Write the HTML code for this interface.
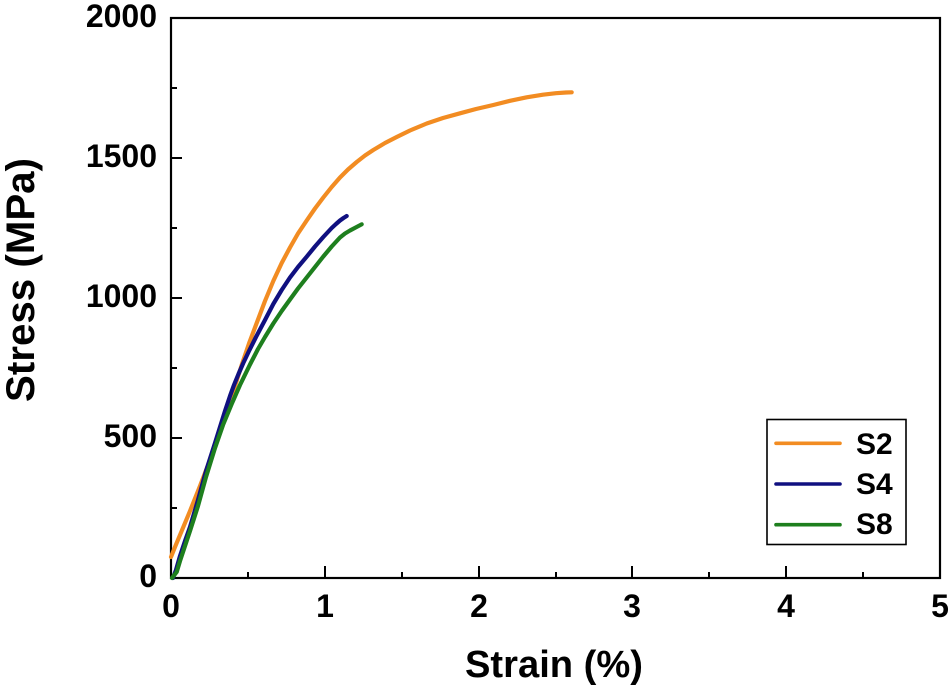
<!DOCTYPE html>
<html><head><meta charset="utf-8"><style>
html,body{margin:0;padding:0;background:#fff;}
svg{display:block;}
text{font-family:"Liberation Sans",Arial,sans-serif;font-weight:bold;fill:#000;}
</style></head><body>
<svg width="951" height="686" viewBox="0 0 951 686" xmlns="http://www.w3.org/2000/svg">
<rect width="951" height="686" fill="#fff"/>
<!-- frame -->
<rect x="171" y="18" width="769" height="560" fill="none" stroke="#000" stroke-width="2.2"/>
<!-- x ticks -->
<g stroke="#000" stroke-width="2">
<line x1="171" y1="578" x2="171" y2="566"/>
<line x1="248" y1="578" x2="248" y2="572"/>
<line x1="325" y1="578" x2="325" y2="566"/>
<line x1="402" y1="578" x2="402" y2="572"/>
<line x1="479" y1="578" x2="479" y2="566"/>
<line x1="556" y1="578" x2="556" y2="572"/>
<line x1="632" y1="578" x2="632" y2="566"/>
<line x1="709" y1="578" x2="709" y2="572"/>
<line x1="786" y1="578" x2="786" y2="566"/>
<line x1="863" y1="578" x2="863" y2="572"/>
<!-- y ticks -->
<line x1="171" y1="508" x2="177" y2="508"/>
<line x1="171" y1="438" x2="182" y2="438"/>
<line x1="171" y1="368" x2="177" y2="368"/>
<line x1="171" y1="298" x2="182" y2="298"/>
<line x1="171" y1="228" x2="177" y2="228"/>
<line x1="171" y1="158" x2="182" y2="158"/>
<line x1="171" y1="88" x2="177" y2="88"/>
</g>
<!-- y tick labels -->
<g font-size="32" text-anchor="end">
<text x="157" y="587">0</text>
<text x="157" y="447">500</text>
<text x="157" y="307">1000</text>
<text x="157" y="167">1500</text>
<text x="157" y="27">2000</text>
</g>
<!-- x tick labels -->
<g font-size="32" text-anchor="middle">
<text x="171" y="617">0</text>
<text x="325" y="617">1</text>
<text x="479" y="617">2</text>
<text x="632" y="617">3</text>
<text x="786" y="617">4</text>
<text x="940" y="617">5</text>
</g>
<!-- axis titles -->
<text x="465" y="677" font-size="38" textLength="178" lengthAdjust="spacingAndGlyphs">Strain (%)</text>
<text transform="translate(34,402) rotate(-90)" font-size="40" textLength="244" lengthAdjust="spacingAndGlyphs">Stress (MPa)</text>
<!-- curves -->
<g fill="none" stroke-width="4.2" stroke-linecap="round" stroke-linejoin="round">
<polyline stroke="#F28C22" points="171,557 175,547 180,535 185,523 190,511 195,498.5 200,486 205,473 210,460 215,446 220,431.5 225,416.5 230,401 236,383 241.7,365 249,343.5 256.7,323 265,301 273.3,281 281.7,263 290,247.5 298,233.5 306.7,220.5 315,208.5 323.3,197.5 331.7,187 340,177.5 348,169.5 356.7,162 365,155.5 373.3,150 385,143 396.7,137 410,130.5 426.7,123.5 443,118 460,113.3 476,109 493.3,105 510,100.8 526.7,97.3 543,94.7 556,93.2 566,92.5 571.7,92.3"/>
<polyline stroke="#101080" points="173,578 176,570 180,556 185,541 190,527 198,500 206,471 215,443 220,427 225,411 230,396 234,385 238.5,374 243.3,363 249,351 256,337 265,320 273.3,304 281.7,290 290,277.5 298,267 306.7,256.7 315,246.5 323.3,237 331.7,228 336,224 340,220.5 343.5,218 346.7,216"/>
<polyline stroke="#1E7F1E" points="172,578 176.7,572 180,561 185,546 190,531 198,506 206,477 215,448 223,425 231.7,404 240,385 250,364.5 258,349 265,337 273.3,323.5 281.7,311 290,299.5 298,288.5 306.7,277.5 315,267 323.3,256.5 331.7,246.5 340,237.5 345,233.5 350,230.5 356,227.3 361.7,224.3"/>
</g>
<!-- legend -->
<rect x="767" y="419.5" width="139" height="125" fill="#fff" stroke="#000" stroke-width="1.6"/>
<g stroke-width="3.6" stroke-linecap="round">
<line x1="776" y1="443.3" x2="840" y2="443.3" stroke="#F28C22"/>
<line x1="776" y1="484" x2="840" y2="484" stroke="#101080"/>
<line x1="776" y1="524.7" x2="840" y2="524.7" stroke="#1E7F1E"/>
</g>
<g font-size="30">
<text x="856" y="454">S2</text>
<text x="856" y="494">S4</text>
<text x="856" y="534">S8</text>
</g>
</svg>
</body></html>
